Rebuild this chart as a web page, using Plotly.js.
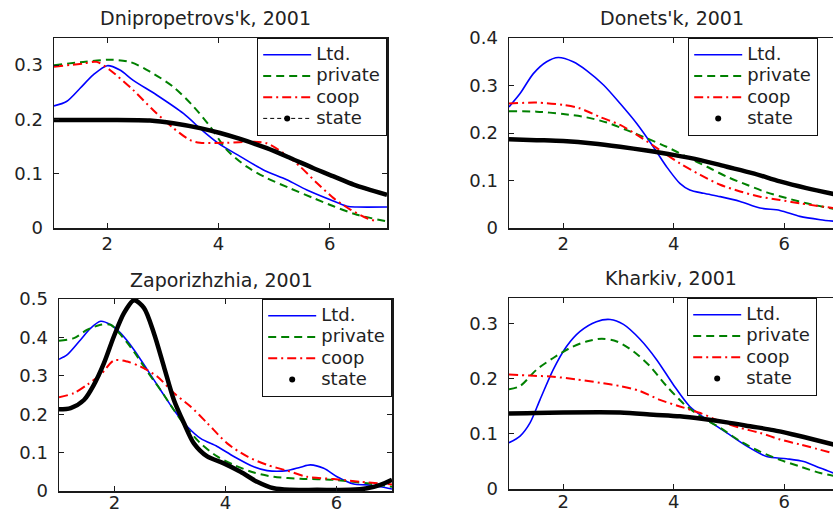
<!DOCTYPE html>
<html>
<head>
<meta charset="utf-8">
<script src="https://cdn.plot.ly/plotly-3.0.1.min.js"></script>
<style>html,body{margin:0;padding:0;background:#fff;}#chart{width:833px;height:515px;}</style>
</head>
<body>
<div id="chart"></div>
<script>
// ---------- DATA ----------
const seriesNames = ["Ltd.", "private", "coop", "state"];
const panelTitles = ["Dnipropetrovs'k, 2001", "Donets'k, 2001", "Zaporizhzhia, 2001", "Kharkiv, 2001"];
const xTickVals = [2, 4, 6];

// Dnipropetrovs'k
const dnLtdX = [1.045,1.27,1.51,1.75,2.0,2.23,2.47,2.89,3.37,3.73,4.0,4.39,4.81,5.23,5.59,6.01,6.31,6.49,7.03];
const dnLtdY = [0.225,0.233,0.257,0.282,0.299,0.291,0.272,0.245,0.211,0.178,0.156,0.132,0.107,0.089,0.070,0.052,0.040,0.0386,0.0386];
const dnPrivX = [1.045,1.57,2.05,2.41,2.77,3.19,3.55,3.85,4.15,4.51,4.87,5.29,5.71,6.07,6.49,7.03];
const dnPrivY = [0.300,0.306,0.310,0.306,0.288,0.260,0.224,0.187,0.144,0.113,0.092,0.073,0.055,0.040,0.0245,0.012];
const dnCoopX = [1.045,1.57,1.81,2.05,2.47,2.83,3.19,3.49,3.67,4.15,4.63,4.87,5.17,5.47,5.77,6.07,6.37,6.67,6.85];
const dnCoopY = [0.297,0.303,0.306,0.291,0.254,0.217,0.184,0.162,0.157,0.157,0.159,0.156,0.138,0.113,0.083,0.055,0.034,0.018,0.012];
const dnStateX = [1.045,2.0,2.77,3.19,3.67,4.03,4.39,4.87,5.29,5.71,6.07,6.43,6.67,7.03];
const dnStateY = [0.199,0.199,0.198,0.193,0.184,0.175,0.164,0.147,0.129,0.110,0.095,0.080,0.072,0.061];

// Donets'k
const doLtdX = [1.02,1.22,1.46,1.70,1.91,2.18,2.42,2.73,3.03,3.33,3.63,3.87,4.11,4.29,4.54,4.84,5.20,5.56,5.92,6.28,6.65,7.0];
const doLtdY = [0.255,0.283,0.325,0.350,0.359,0.350,0.332,0.301,0.262,0.220,0.171,0.129,0.094,0.080,0.073,0.066,0.056,0.042,0.037,0.0245,0.0175,0.013];
const doPrivX = [1.02,1.52,2.0,2.42,2.79,3.15,3.51,3.87,4.23,4.60,4.96,5.32,5.68,6.04,6.40,7.0];
const doPrivY = [0.246,0.245,0.240,0.233,0.222,0.206,0.189,0.171,0.150,0.129,0.108,0.091,0.075,0.063,0.052,0.038];
const doCoopX = [1.02,1.52,2.0,2.30,2.66,3.03,3.39,3.75,4.11,4.48,4.84,5.20,5.56,5.92,6.28,7.0];
const doCoopY = [0.262,0.264,0.259,0.252,0.234,0.217,0.192,0.164,0.136,0.112,0.091,0.077,0.066,0.059,0.052,0.040];
const doStateX = [1.02,1.52,2.0,2.54,3.03,3.51,3.99,4.48,4.96,5.44,5.92,6.40,7.0];
const doStateY = [0.187,0.185,0.183,0.178,0.171,0.163,0.154,0.143,0.129,0.115,0.098,0.084,0.069];

// Zaporizhzhia
const zaLtdX = [1.0,1.15,1.39,1.57,1.75,1.93,2.11,2.35,2.59,2.83,3.07,3.31,3.55,3.85,4.15,4.51,4.75,5.11,5.35,5.53,5.77,6.01,6.31,6.55,6.79,7.0];
const zaLtdY = [0.343,0.355,0.394,0.424,0.442,0.433,0.411,0.368,0.316,0.263,0.211,0.168,0.137,0.116,0.090,0.063,0.053,0.053,0.062,0.068,0.059,0.037,0.018,0.016,0.011,0.005];
const zaPrivX = [1.0,1.27,1.51,1.75,1.93,2.11,2.35,2.59,2.83,3.07,3.31,3.55,3.85,4.15,4.51,4.87,5.35,5.95,6.55,7.0];
const zaPrivY = [0.391,0.398,0.420,0.433,0.433,0.407,0.363,0.311,0.263,0.211,0.163,0.124,0.090,0.068,0.048,0.037,0.032,0.029,0.020,0.011];
const zaCoopX = [1.0,1.27,1.51,1.75,1.99,2.23,2.47,2.77,3.07,3.37,3.67,4.03,4.39,4.75,5.11,5.47,5.95,6.43,7.0];
const zaCoopY = [0.244,0.255,0.277,0.303,0.340,0.337,0.324,0.298,0.255,0.220,0.177,0.124,0.090,0.068,0.053,0.037,0.031,0.024,0.017];
const zaStateX = [1.0,1.21,1.45,1.63,1.81,1.99,2.17,2.35,2.53,2.71,2.89,3.07,3.25,3.43,3.67,3.97,4.27,4.57,4.87,5.17,5.65,6.25,6.55,6.79,7.0];
const zaStateY = [0.213,0.216,0.237,0.277,0.333,0.403,0.463,0.497,0.477,0.411,0.324,0.237,0.177,0.124,0.090,0.072,0.050,0.024,0.007,0.003,0.003,0.003,0.007,0.016,0.029];

// Kharkiv
const khLtdX = [1.02,1.22,1.40,1.58,1.82,2.06,2.30,2.60,2.85,3.09,3.39,3.69,3.99,4.29,4.60,4.96,5.32,5.68,6.04,6.35,6.65,7.0];
const khLtdY = [0.084,0.096,0.120,0.162,0.217,0.259,0.286,0.304,0.308,0.299,0.272,0.235,0.190,0.150,0.126,0.102,0.078,0.059,0.055,0.050,0.038,0.025];
const khPrivX = [1.02,1.22,1.52,1.82,2.12,2.42,2.70,2.97,3.27,3.57,3.87,4.17,4.48,4.84,5.20,5.56,5.92,6.28,6.65,7.0];
const khPrivY = [0.181,0.187,0.217,0.238,0.256,0.268,0.273,0.268,0.250,0.223,0.187,0.156,0.132,0.111,0.087,0.068,0.053,0.041,0.029,0.022];
const khCoopX = [1.02,1.40,1.82,2.24,2.67,3.03,3.39,3.75,4.11,4.48,4.84,5.20,5.56,5.92,6.28,7.0];
const khCoopY = [0.208,0.206,0.204,0.199,0.193,0.187,0.178,0.162,0.150,0.138,0.123,0.111,0.102,0.090,0.081,0.062];
const khStateX = [1.02,2.0,3.03,3.63,4.11,4.54,4.96,5.38,5.80,6.16,6.53,7.0];
const khStateY = [0.137,0.139,0.139,0.135,0.132,0.127,0.121,0.114,0.107,0.099,0.090,0.078];

// ---------- BUILD ----------
const FONT = "DejaVu Sans, Arial, sans-serif";
const TXT = "#222";
const legName = n => '<span style="font-size:18px">' + n + '</span>';
const panels = [
  {ax: "", leg: "legend", data: [[dnLtdX,dnLtdY],[dnPrivX,dnPrivY],[dnCoopX,dnCoopY],[dnStateX,dnStateY]], stateLegendLine: true},
  {ax: "2", leg: "legend2", data: [[doLtdX,doLtdY],[doPrivX,doPrivY],[doCoopX,doCoopY],[doStateX,doStateY]], stateLegendLine: false},
  {ax: "3", leg: "legend3", data: [[zaLtdX,zaLtdY],[zaPrivX,zaPrivY],[zaCoopX,zaCoopY],[zaStateX,zaStateY]], stateLegendLine: false},
  {ax: "4", leg: "legend4", data: [[khLtdX,khLtdY],[khPrivX,khPrivY],[khCoopX,khCoopY],[khStateX,khStateY]], stateLegendLine: false}
];
const lineStyles = [
  {color: "#0000ff", width: 1.6, dash: "solid"},
  {color: "#008000", width: 2, dash: "8px,5px"},
  {color: "#ff0000", width: 2, dash: "9px,4px,2px,4px"}
];

const traces = [];
panels.forEach(p => {
  const xa = "x" + p.ax, ya = "y" + p.ax;
  for (let i = 0; i < 3; i++) {
    traces.push({
      x: p.data[i][0], y: p.data[i][1], xaxis: xa, yaxis: ya,
      type: "scatter", mode: "lines", name: legName(seriesNames[i]), legend: p.leg,
      line: Object.assign({shape: "spline", smoothing: 0.8}, lineStyles[i]),
      hoverinfo: "skip"
    });
  }
  traces.push({
    x: p.data[3][0], y: p.data[3][1], xaxis: xa, yaxis: ya,
    type: "scatter", mode: "lines", name: seriesNames[3], legend: p.leg, showlegend: false,
    line: {color: "#000", width: 4.5, shape: "spline", smoothing: 0.8}, hoverinfo: "skip"
  });
  // legend entry for state
  traces.push({
    x: [null], y: [null], xaxis: xa, yaxis: ya, type: "scatter",
    mode: p.stateLegendLine ? "lines+markers" : "markers",
    name: legName(seriesNames[3]), legend: p.leg,
    line: {color: "#000", width: 1, dash: "4px,3px"},
    marker: {color: "#000", size: 6, symbol: "circle"}
  });
});

const W = 833, H = 515;
const px = v => v / W, py = v => 1 - v / H;
const geom = [
  {x: [54, 387], y: [38, 228], xr: [1.045, 7.03], yr: [0, 0.35], mirrorY: "ticks", title: [205, 18], leg: {x: 387, xa: "right", y: 38}, xso: -1},
  {x: [509, 833], y: [38, 228], xr: [1.02, 6.88], yr: [0, 0.4], mirrorY: false, title: [672, 18], leg: {x: 688, xa: "left", y: 38}, xso: -1},
  {x: [59, 392], y: [299, 491], xr: [1.0, 7.0], yr: [0, 0.5], mirrorY: "ticks", title: [221, 280], leg: {x: 392, xa: "right", y: 299}, xso: -5},
  {x: [509, 833], y: [298, 489], xr: [1.02, 6.88], yr: [0, 0.347], mirrorY: false, title: [671, 278], leg: {x: 687, xa: "left", y: 298}, xso: -4}
];

const layout = {
  width: W, height: H,
  margin: {l: 0, r: 0, t: 0, b: 0, autoexpand: false},
  paper_bgcolor: "#fff", plot_bgcolor: "#fff",
  font: {family: FONT, size: 18, color: TXT},
  annotations: [], showlegend: true
};
geom.forEach((g, i) => {
  const s = panels[i].ax;
  const axCommon = {
    showgrid: false, zeroline: false, showline: true, linecolor: "#1a1a1a", linewidth: 1.5,
    ticks: "inside", ticklen: 5, tickwidth: 1, tickcolor: "#1a1a1a",
    tickfont: {family: FONT, size: 18, color: TXT}, fixedrange: true
  };
  layout["xaxis" + s] = Object.assign({}, axCommon, {
    domain: [px(g.x[0]), px(g.x[1])], range: g.xr, anchor: "y" + s,
    tickvals: xTickVals, mirror: "ticks", ticklabelstandoff: g.xso
  });
  layout["yaxis" + s] = Object.assign({}, axCommon, {
    domain: [py(g.y[1]), py(g.y[0])], range: g.yr, anchor: "x" + s,
    dtick: 0.1, tick0: 0, mirror: g.mirrorY, ticklabelstandoff: 6
  });
  layout[panels[i].leg] = {
    x: px(g.leg.x), xanchor: g.leg.xa, y: py(g.leg.y), yanchor: "top",
    xref: "paper", yref: "paper",
    bgcolor: "#fff", bordercolor: "#111", borderwidth: 1.2,
    font: {family: FONT, size: 14, color: TXT}, itemwidth: 48, traceorder: "normal"
  };
  layout.annotations.push({
    text: panelTitles[i], xref: "paper", yref: "paper",
    x: px(g.title[0]), y: py(g.title[1]), xanchor: "center", yanchor: "middle",
    showarrow: false, font: {family: FONT, size: 19, color: TXT}
  });
});

Plotly.newPlot("chart", traces, layout, {staticPlot: true, displayModeBar: false});
</script>
</body>
</html>
